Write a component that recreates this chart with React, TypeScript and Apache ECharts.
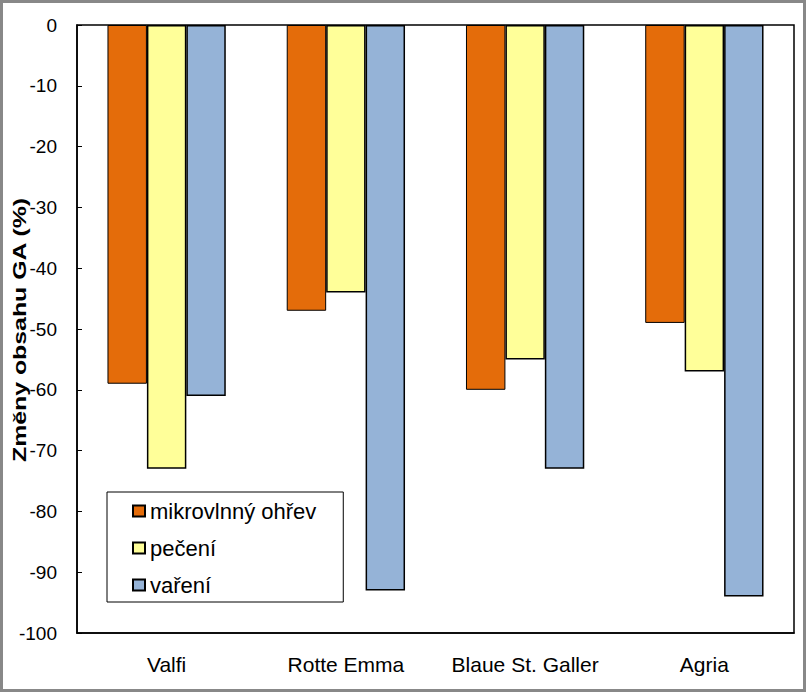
import React, { useEffect, useRef } from "react";
import * as echarts from "echarts";

const categories = ["Valfi", "Rotte Emma", "Blaue St. Galler", "Agria"];
const seriesNames = ["mikrovlnný ohřev", "pečení", "vaření"];
const mikrovlnny = [-59, -47, -60, -49];
const peceni = [-73, -44, -55, -57];
const vareni = [-61, -93, -73, -94];
const yAxisTitle = "Změny obsahu GA (%)";
const colors = ["#E46C0A", "#FFFF99", "#95B3D7"];
const borderWidths = [1, 1.5, 1.5];

export default function App() {
  const ref = useRef<HTMLDivElement>(null);
  useEffect(() => {
    document.body.style.margin = "0";
    const chart = echarts.init(ref.current!, null, { renderer: "svg" });
    const font = "'Liberation Sans', Arial, sans-serif";
    const data = [mikrovlnny, peceni, vareni];
    chart.setOption({
      animation: false,
      textStyle: { fontFamily: font },
      grid: {
        left: 77,
        right: 12,
        top: 25,
        bottom: 59,
        show: true,
        borderColor: "#000",
        borderWidth: 1.5,
        backgroundColor: "#fff",
      },
      graphic: [
        {
          type: "rect",
          shape: { x: 1.5, y: 1.5, width: 803, height: 689 },
          style: { fill: "none", stroke: "#888", lineWidth: 3 },
          silent: true,
          z: 100,
        },
        {
          type: "text",
          x: 20,
          y: 330,
          rotation: Math.PI / 2,
          scaleX: 1.38,
          scaleY: 1,
          style: {
            text: yAxisTitle,
            font: "bold 18px 'Liberation Sans', Arial, sans-serif",
            fill: "#000",
            textAlign: "center",
            textVerticalAlign: "middle",
          },
          silent: true,
        },
      ],
      legend: {
        orient: "vertical",
        left: 107,
        top: 492,
        padding: [8, 27, 6, 25],
        itemGap: 15,
        itemWidth: 12,
        itemHeight: 11,
        borderColor: "#000",
        borderWidth: 1,
        backgroundColor: "#fff",
        icon: "rect",
        data: seriesNames,
        textStyle: { fontSize: 22, lineHeight: 22, color: "#000", fontFamily: font },
      },
      xAxis: {
        type: "category",
        data: categories,
        position: "bottom",
        axisLine: { onZero: false, show: true, lineStyle: { color: "#000", width: 1.5 } },
        axisTick: { show: false },
        axisLabel: { interval: 0, fontSize: 21, color: "#000", margin: 21, fontFamily: font },
      },
      yAxis: {
        type: "value",
        min: -100,
        max: 0,
        interval: 10,
        axisLine: { show: true, lineStyle: { color: "#000", width: 1.5 } },
        axisTick: { show: true, length: 5, inside: true, lineStyle: { color: "#000" } },
        splitLine: { show: false },
        axisLabel: { fontSize: 19, color: "#000", margin: 20, fontFamily: font },
      },
      series: seriesNames.map((name, i) => ({
        name,
        type: "bar",
        data: data[i],
        barGap: "0%",
        barCategoryGap: "34%",
        itemStyle: { color: colors[i], borderColor: "#000", borderWidth: borderWidths[i] },
      })),
    });
    return () => chart.dispose();
  }, []);
  return <div ref={ref} style={{ width: 806, height: 692 }} />;
}
